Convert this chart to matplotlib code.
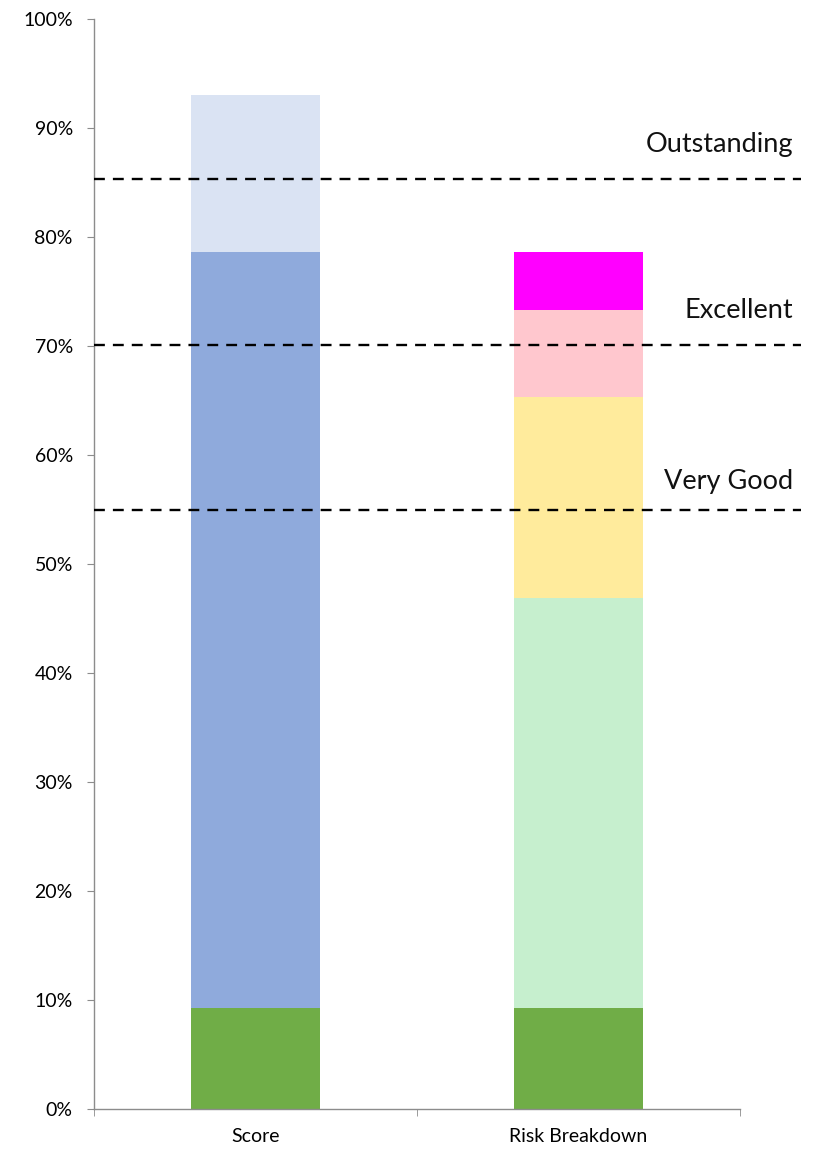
"""Stacked score vs risk breakdown with rating thresholds."""
import matplotlib
matplotlib.use("Agg")
import matplotlib.pyplot as plt
import numpy as np

plt.rcParams.update({"font.family": ["Lato", "DejaVu Sans"], "font.size": 14})

categories = ["Score", "Risk Breakdown"]
# segment heights (percent), bottom to top
score_parts = [9.3, 69.3, 14.4]
score_colors = ["#70AD47", "#8FAADC", "#DAE3F3"]
risk_parts = [9.3, 37.6, 18.4, 8.0, 5.3]
risk_colors = ["#70AD47", "#C6EFCE", "#FFEB9C", "#FFC7CE", "#FF00FF"]

thresholds = [85.3, 70.1, 55.0]
threshold_labels = ["Outstanding", "Excellent", "Very Good"]
label_y = [87.8, 72.6, 56.9]

AXIS_GREY = "#8c8c8c"

fig = plt.figure(figsize=(8.26, 11.49), dpi=100)
ax = fig.add_axes([93.7 / 826, 40 / 1149, (740 - 93.7) / 826, (1109.3 - 19.3) / 1149])

x = np.arange(len(categories))
for xi, parts, cols in [(x[0], score_parts, score_colors), (x[1], risk_parts, risk_colors)]:
    bottom = 0
    for h, c in zip(parts, cols):
        ax.bar(xi, h, 0.40, bottom=bottom, color=c, lw=0, zorder=2)
        bottom += h

for y, lbl, ty in zip(thresholds, threshold_labels, label_y):
    ax.plot([-0.5, 1.69], [y, y], color="black", lw=1.7, dashes=(4.6, 3.4),
            clip_on=False, zorder=3)
    ax.text(1.664, ty, lbl, ha="right", va="baseline", fontsize=19.5, color="#111111")

ax.set_xlim(-0.5, 1.5)
ax.set_ylim(0, 100)
ax.set_yticks(range(0, 101, 10))
ax.set_yticklabels([f"{v}%" for v in range(0, 101, 10)])
ax.set_xticks(x)
ax.set_xticklabels(categories)
ax.set_xticks([-0.5, 0.5, 1.5], minor=True)
ax.tick_params(axis="x", which="major", length=0, pad=14)
ax.tick_params(axis="x", which="minor", length=5, color=AXIS_GREY, direction="out")
ax.tick_params(axis="y", length=5, color=AXIS_GREY, pad=10)
for s in ["top", "right"]:
    ax.spines[s].set_visible(False)
for s in ["left", "bottom"]:
    ax.spines[s].set_color(AXIS_GREY)
    ax.spines[s].set_linewidth(1.0)

fig.savefig("out.png", dpi=100)
